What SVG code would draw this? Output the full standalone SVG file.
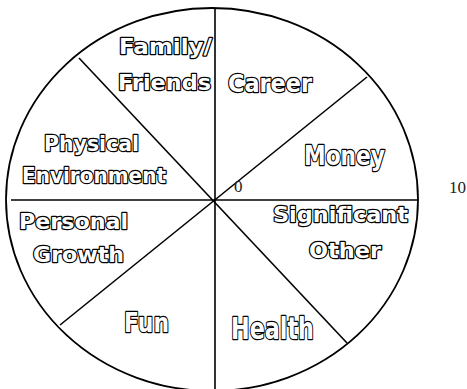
<svg xmlns="http://www.w3.org/2000/svg" width="467" height="389" viewBox="0 0 467 389">
  <style>
    .rim { fill: none; stroke: #000; stroke-width: 1.8; }
    .spoke { stroke: #000; stroke-width: 1.6; fill: none; }
    .lbl { font-family: "DejaVu Sans", "Liberation Sans", Arial, sans-serif; font-weight: bold; fill: #fff; stroke: #000; stroke-width: 2.4; stroke-linejoin: round; paint-order: stroke; }
    .scale { font-family: "Liberation Serif", "Times New Roman", serif; font-size: 17px; fill: #222; }
  </style>
  <rect width="467" height="389" fill="#fff"/>

  <!-- wheel outline -->
  <ellipse class="rim" cx="212" cy="199.5" rx="206" ry="191.5"/>

  <!-- spokes dividing the eight segments -->
  <g id="connectors">
    <line class="spoke" x1="215" y1="9" x2="215" y2="389"/>
    <line class="spoke" x1="11" y1="200" x2="418.5" y2="200"/>
    <line class="spoke" x1="79" y1="58" x2="347" y2="343"/>
    <line class="spoke" x1="367" y1="77" x2="60" y2="325"/>
  </g>

  <!-- segment labels -->
  <g id="family-friends">
    <text class="lbl" x="119" y="54" font-size="21" textLength="93" lengthAdjust="spacingAndGlyphs">Family/</text>
    <text class="lbl" x="118" y="89.5" font-size="22" textLength="93" lengthAdjust="spacingAndGlyphs">Friends</text>
  </g>
  <g id="career">
    <text class="lbl" x="228" y="91.5" font-size="24" textLength="84" lengthAdjust="spacingAndGlyphs">Career</text>
  </g>
  <g id="physical-environment">
    <text class="lbl" x="44" y="151" font-size="21" textLength="95" lengthAdjust="spacingAndGlyphs">Physical</text>
    <text class="lbl" x="22" y="183" font-size="21" textLength="144" lengthAdjust="spacingAndGlyphs">Environment</text>
  </g>
  <g id="money">
    <text class="lbl" x="304" y="165" font-size="26" textLength="81" lengthAdjust="spacingAndGlyphs">Money</text>
  </g>
  <g id="personal-growth">
    <text class="lbl" x="19" y="229" font-size="22" textLength="109" lengthAdjust="spacingAndGlyphs">Personal</text>
    <text class="lbl" x="33" y="262" font-size="22" textLength="91" lengthAdjust="spacingAndGlyphs">Growth</text>
  </g>
  <g id="significant-other">
    <text class="lbl" x="273" y="222" font-size="22" textLength="135" lengthAdjust="spacingAndGlyphs">Significant</text>
    <text class="lbl" x="309" y="258" font-size="21" textLength="72" lengthAdjust="spacingAndGlyphs">Other</text>
  </g>
  <g id="fun">
    <text class="lbl" x="124" y="332" font-size="27" textLength="45" lengthAdjust="spacingAndGlyphs">Fun</text>
  </g>
  <g id="health">
    <text class="lbl" x="231" y="339" font-size="30" textLength="83" lengthAdjust="spacingAndGlyphs">Health</text>
  </g>

  <!-- scale marks -->
  <g id="scale-min">
    <text class="scale" x="234" y="192">0</text>
  </g>
  <g id="scale-max">
    <text class="scale" x="449" y="193">10</text>
  </g>
</svg>
